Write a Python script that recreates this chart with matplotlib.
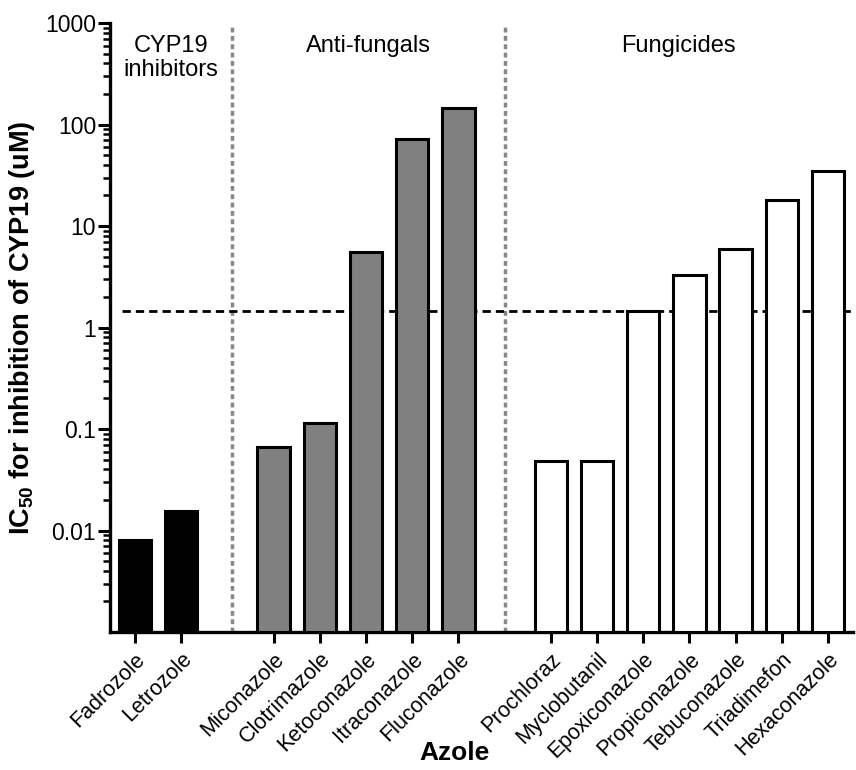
import numpy as np
import matplotlib.pyplot as plt
from matplotlib.ticker import FixedLocator, FixedFormatter, NullFormatter

plt.rcParams['font.family'] = ['Liberation Sans', 'DejaVu Sans']
plt.rcParams['mathtext.fontset'] = 'custom'
plt.rcParams['mathtext.rm'] = 'Liberation Sans'
plt.rcParams['mathtext.bf'] = 'Liberation Sans:bold'

# data (IC50, uM)
cyp19_names = ["Fadrozole", "Letrozole"]
cyp19_vals = [0.008, 0.0155]
antifungal_names = ["Miconazole", "Clotrimazole", "Ketoconazole", "Itraconazole", "Fluconazole"]
antifungal_vals = [0.066, 0.115, 5.6, 72, 145]
fungicide_names = ["Prochloraz", "Myclobutanil", "Epoxiconazole", "Propiconazole",
                   "Tebuconazole", "Triadimefon", "Hexaconazole"]
fungicide_vals = [0.048, 0.048, 1.45, 3.3, 6.0, 18, 35]
threshold = 1.45
group_titles = ["CYP19\ninhibitors", "Anti-fungals", "Fungicides"]

y_ticks = [0.01, 0.1, 1, 10, 100, 1000]
y_ticklabels = ["0.01", "0.1", "1", "10", "100", "1000"]

base = 1e-3
groups = [(cyp19_names, cyp19_vals, "black"),
          (antifungal_names, antifungal_vals, "#808080"),
          (fungicide_names, fungicide_vals, "white")]

fig = plt.figure(figsize=(8.56, 7.7), dpi=100)
ax = fig.add_axes([0.1285, 0.1792, 0.868, 0.7909])

xmin, xmax = -0.54, 15.54
dividers = [2.1, 8.0]

start = 0
all_pos, all_names = [], []
for names, vals, col in groups:
    pos = np.arange(start, start + len(names))
    ax.bar(pos, np.array(vals) - base, bottom=base, width=0.7, color=col,
           edgecolor="black", linewidth=2.2, zorder=3)
    all_pos.extend(pos)
    all_names.extend(names)
    start += len(names) + 1

ax.set_yscale("log")
ax.set_ylim(base, 1000)
ax.set_xlim(xmin, xmax)

# threshold line and group dividers
ax.hlines(threshold, -0.27, xmax, colors="black", linewidth=2.0,
          linestyles=(0, (3, 1.8)), zorder=2)
for d in dividers:
    ax.axvline(d, ymin=0, ymax=0.993, color="#888888", linewidth=2.5,
               dashes=(1.4, 1.0), zorder=1)

edges = [xmin] + dividers + [xmax]
tr = ax.get_xaxis_transform()
for i, t in enumerate(group_titles):
    ax.text((edges[i] + edges[i + 1]) / 2, 0.981, t, transform=tr, ha="center",
            va="top", fontsize=17, linespacing=1.15, multialignment="center")

ax.yaxis.set_major_locator(FixedLocator(y_ticks))
ax.yaxis.set_major_formatter(FixedFormatter(y_ticklabels))
minor = [m * 10.0 ** e for e in range(-3, 3) for m in range(2, 10)]
ax.yaxis.set_minor_locator(FixedLocator(minor))
ax.yaxis.set_minor_formatter(NullFormatter())

ax.set_xticks(all_pos)
ax.set_xticklabels(all_names, rotation=45, ha="right", rotation_mode="anchor", fontsize=15.5)

ax.tick_params(axis="y", which="major", length=9, width=2.2, labelsize=16.5, pad=1)
ax.tick_params(axis="y", which="minor", length=5, width=1.8)
ax.tick_params(axis="x", which="major", length=8, width=2.2, pad=4)

for s in ["top", "right"]:
    ax.spines[s].set_visible(False)
for s in ["left", "bottom"]:
    ax.spines[s].set_linewidth(2.4)

ax.set_ylabel(r"IC$_{\mathbf{50}}$ for inhibition of CYP19 (uM)", fontsize=19.5, fontweight="bold")
ax.yaxis.set_label_coords(-0.098, 0.5)
ax.set_xlabel("Azole", fontsize=19, fontweight="bold")
ax.xaxis.set_label_coords(0.463, -0.179)

fig.savefig("out.png", dpi=100)
